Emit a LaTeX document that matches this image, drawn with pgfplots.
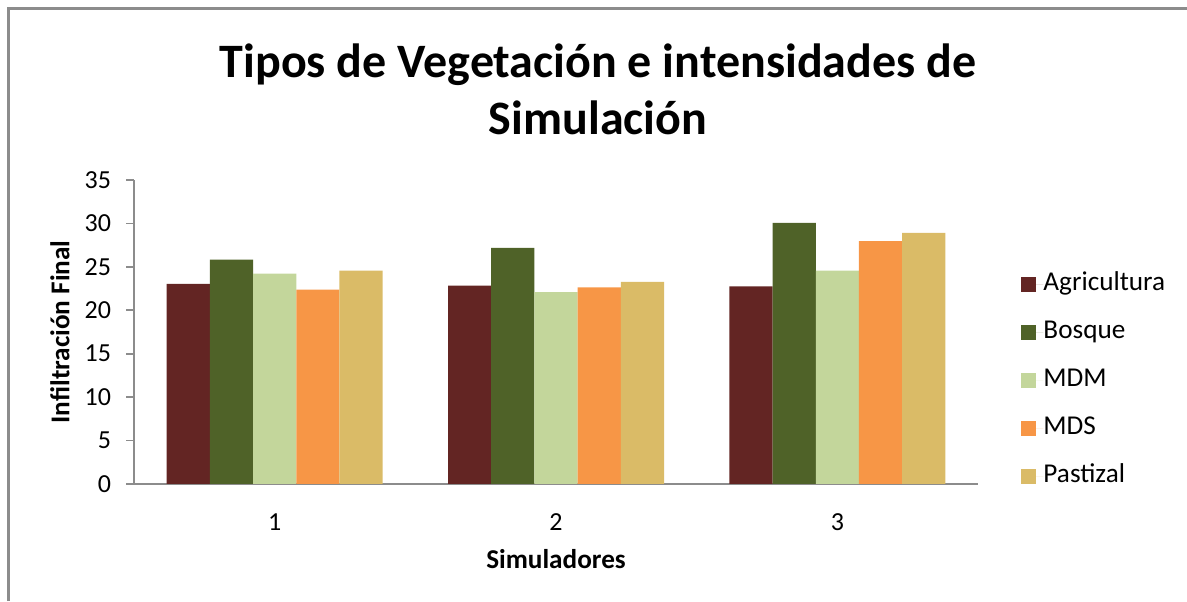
\documentclass[border=0pt]{standalone}
\usepackage{pgfplots}
\pgfplotsset{compat=1.18}
\usepackage{fontspec}
\setmainfont{Carlito}
\definecolor{agri}{HTML}{632523}
\definecolor{bosq}{HTML}{4F6228}
\definecolor{mdm}{HTML}{C3D69B}
\definecolor{mds}{HTML}{F79646}
\definecolor{past}{HTML}{DABB67}
\definecolor{axgray}{HTML}{8C8C8C}
\begin{document}
\begin{tikzpicture}[x=0.5bp,y=0.5bp]
\useasboundingbox (0,0) rectangle (1187,601);
\draw[color=axgray, line width=1.3bp] (8.5,0) -- (8.5,592.5) -- (1187,592.5);
\node[font=\fontsize{24bp}{28bp}\selectfont\bfseries, anchor=base] at (598,523) {Tipos de Vegetación e intensidades de};
\node[font=\fontsize{24bp}{28bp}\selectfont\bfseries, anchor=base] at (598,466) {Simulación};
\begin{axis}[
  at={(67bp,58.5bp)}, anchor=south west,
  scale only axis, width=422bp, height=152bp,
  ybar=0pt, bar width=21.6bp,
  xmin=0.5, xmax=3.5, ymin=0, ymax=35,
  xtick={1,2,3}, ytick={0,5,...,35},
  axis x line*=bottom, axis y line*=left,
  axis line style={draw=axgray, line width=0.8bp},
  x axis line style={-}, y axis line style={-},
  xtick style={draw=none},
  ytick style={draw=axgray, line width=0.8bp},
  tick align=outside, major tick length=4bp,
  /pgf/number format/assume math mode=true,
  ticklabel style={font=\fontsize{13bp}{15bp}\selectfont},
  xticklabel style={anchor=base, yshift=-19.5bp},
  yticklabel style={anchor=east, xshift=-4bp},
  xlabel={\textbf{Simuladores}},
  ylabel={\textbf{Infiltración Final}},
  label style={font=\fontsize{13.6bp}{16bp}\selectfont},
  xlabel style={at={(axis description cs:0.5,0)}, anchor=base, yshift=-42bp},
  ylabel style={at={(axis description cs:0,0.5)}, anchor=center, yshift=37bp},
  legend style={at={(axis description cs:1.051,0.34)}, anchor=west, draw=none, fill=none,
    font=\fontsize{13.6bp}{15bp}\selectfont, inner sep=0pt, row sep=12bp,
    nodes={inner sep=0pt, text height=9bp, text depth=3bp}},
  legend cell align=left,
  legend image code/.code={\fill[#1] (0bp,-3.7bp) rectangle (7.5bp,3.7bp); \path (0bp,0bp) -- (11bp,0bp);},
]
\addplot[fill=agri, draw=none] coordinates {(1,23.03) (2,22.83) (3,22.75)};
\addplot[fill=bosq, draw=none] coordinates {(1,25.82) (2,27.17) (3,30.05)};
\addplot[fill=mdm, draw=none] coordinates {(1,24.21) (2,22.10) (3,24.56)};
\addplot[fill=mds, draw=none] coordinates {(1,22.37) (2,22.64) (3,27.97)};
\addplot[fill=past, draw=none] coordinates {(1,24.56) (2,23.26) (3,28.90)};
\legend{Agricultura,Bosque,MDM,MDS,Pastizal}
\end{axis}
\end{tikzpicture}
\end{document}
